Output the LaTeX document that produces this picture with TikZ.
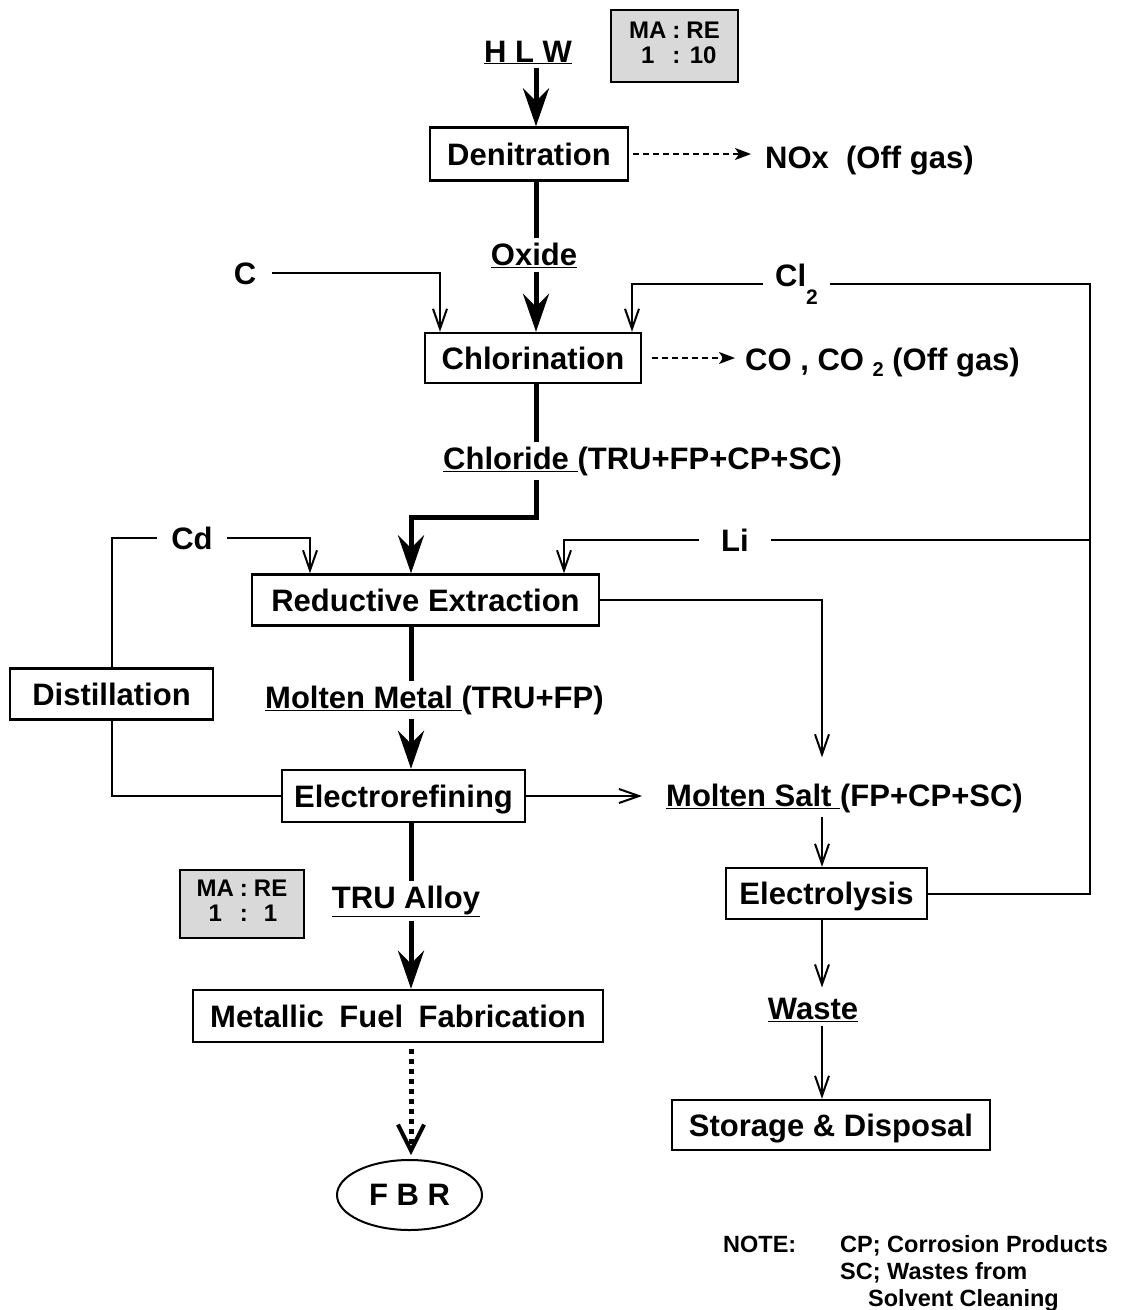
\documentclass[tikz,border=0pt]{standalone}
\usepackage{fontspec}
\setmainfont{Liberation Sans}
\usetikzlibrary{arrows.meta,shapes.geometric}
\begin{document}
\begin{tikzpicture}[x=1pt,y=-1pt,
  font=\bfseries\fontsize{31}{36}\selectfont,
  procbox/.style={draw,line width=2.4pt,inner sep=0pt,text height=22.2pt,text depth=0pt},
  lbl/.style={inner sep=0pt},
  ratio/.style={draw,line width=2pt,fill=black!15,inner sep=0pt,
     font=\bfseries\fontsize{24}{24}\selectfont},
  mainline/.style={line width=5pt},
  mainarrow/.style={line width=5pt,-{Stealth[length=38pt,width=26pt,inset=13pt]}},
  plain/.style={line width=2pt},
  feed/.style={line width=2pt,-{Straight Barb[length=20pt,width=14pt,line width=2pt]}},
  offg/.style={line width=1.8pt,dash pattern=on 6pt off 4pt,
     -{Stealth[length=16pt,width=12pt,inset=4pt]}},
  dotarrow/.style={line width=5pt,dash pattern=on 5pt off 5pt,
     -{Straight Barb[length=26pt,width=26pt,line width=4pt]}}]
\useasboundingbox (0,0) rectangle (1125,1310);

% axis coordinates
\coordinate (axA) at (536,0);
\coordinate (axB) at (411,0);
\coordinate (cx) at (440,0);
\coordinate (clx) at (632,0);
\coordinate (cdx) at (310,0);
\coordinate (lix) at (564,0);
\coordinate (msx) at (822,0);
\coordinate (rx) at (1090,0);
\coordinate (elb) at (536,517);

% top
\node[lbl,anchor=base] (hlw) at (528,62) {\underline{H L W}};
\node[ratio,minimum width=127pt,minimum height=72pt] (r1) at (674.5,46)
  {\begin{tabular}{@{}c@{\hspace{6pt}}c@{\hspace{6pt}}c@{}}MA&:&RE\\[1pt]1&:&10\end{tabular}};

\node[procbox,minimum width=198pt,minimum height=53pt] (den) at (529,154) {Denitration};
\node[lbl,anchor=base west] (nox) at (765,168) {NOx\ \ (Off gas)};

\node[lbl,anchor=base,inner ysep=4pt] (oxide) at (534,265) {\underline{Oxide}};
\node[lbl,anchor=base,inner xsep=16pt] (cC) at (245,284) {C};
\node[lbl,anchor=base west,inner xsep=12pt] (cl) at (763,286) {Cl\raisebox{-18pt}{\fontsize{21}{21}\selectfont 2}};

\node[procbox,minimum width=216pt,minimum height=50pt] (chlor) at (533,358) {Chlorination};
\node[lbl,anchor=base west] (co) at (745,370) {CO , CO \raisebox{-6pt}{\fontsize{20}{20}\selectfont 2} (Off gas)};

\node[lbl,anchor=base west,inner ysep=4pt] (chl) at (443,469) {\underline{Chloride\ }(TRU+FP+CP+SC)};

\node[lbl,anchor=base,inner xsep=14pt] (cd) at (192,549) {Cd};
\node[lbl,anchor=base,inner xsep=22pt] (li) at (735,551) {Li};

\node[procbox,minimum width=347pt,minimum height=51pt] (red) at (425.5,600) {Reductive Extraction};

\node[procbox,minimum width=203pt,minimum height=51pt] (dist) at (111.5,694) {Distillation};
\node[lbl,anchor=base west,inner ysep=4pt] (mm) at (265,708) {\underline{Molten Metal\ }(TRU+FP)};

\node[procbox,minimum width=243pt,minimum height=52pt] (elr) at (403.5,796) {Electrorefining};
\node[lbl,anchor=base west,inner ysep=4pt] (ms) at (666,806) {\underline{Molten Salt\ }(FP+CP+SC)};

\node[ratio,minimum width=124pt,minimum height=68pt] (r2) at (242,904)
  {\begin{tabular}{@{}c@{\hspace{6pt}}c@{\hspace{6pt}}c@{}}MA&:&RE\\[1pt]1&:&1\end{tabular}};
\node[lbl,anchor=base,inner ysep=4pt] (tru) at (406,908) {\underline{TRU Alloy}};

\node[procbox,minimum width=201pt,minimum height=51pt] (ely) at (826.5,893.5) {Electrolysis};
\node[lbl,anchor=base,inner ysep=4pt] (waste) at (813,1019) {\underline{Waste}};

\node[procbox,minimum width=410pt,minimum height=52pt] (met) at (398,1016)
  {Metallic\hspace{0.5em}Fuel\hspace{0.5em}Fabrication};
\node[procbox,minimum width=318pt,minimum height=50pt] (sto) at (831,1125) {Storage \& Disposal};

\node[draw,ellipse,line width=2pt,minimum width=145pt,minimum height=70pt,inner sep=0pt] (fbr) at (409.5,1195) {F B R};

% note
\node[lbl,anchor=base west,font=\bfseries\fontsize{23.5}{28}\selectfont] (note) at (723,1252) {NOTE:};
\node[lbl,anchor=base west,font=\bfseries\fontsize{23.5}{28}\selectfont] (n1) at (840,1252) {CP; Corrosion Products};
\node[lbl,anchor=base west,font=\bfseries\fontsize{23.5}{28}\selectfont] (n2) at (840,1279) {SC; Wastes from};
\node[lbl,anchor=base west,font=\bfseries\fontsize{23.5}{28}\selectfont] (n3) at (868,1306) {Solvent Cleaning};

% main chain
\draw[mainarrow,shorten <=4pt] (hlw.south -| axA) -- (den.north -| axA);
\draw[mainline] (den.south -| axA) -- (oxide.north -| axA);
\draw[mainarrow] (oxide.south -| axA) -- (chlor.north -| axA);
\draw[mainline] (chlor.south -| axA) -- (chl.north -| axA);
\draw[mainarrow] (chl.south -| axA) -- (elb) -| (red.north -| axB);
\draw[mainline] (red.south -| axB) -- (mm.north -| axB);
\draw[mainarrow] (mm.south -| axB) -- (elr.north -| axB);
\draw[mainline] (elr.south -| axB) -- (tru.north -| axB);
\draw[mainarrow] (tru.south -| axB) -- (met.north -| axB);
\draw[dotarrow] ([yshift=-6pt]met.south -| axB) -- ([yshift=4pt]fbr.north -| axB);

% off gas
\draw[offg,shorten <=4pt,shorten >=14pt] (den.east) -- (den.east -| nox.west);
\draw[offg,shorten <=10pt,shorten >=10pt] (chlor.east) -- (chlor.east -| co.west);

% feeds
\draw[feed] (cC.east) -| (chlor.north -| cx);
\draw[feed] (cl.west) -| (chlor.north -| clx);
\draw[feed] (cd.east) -| (red.north -| cdx);
\draw[plain] (cd.west) -| (dist.north);
\draw[feed] (li.west) -| (red.north -| lix);
\draw[plain] (li.east) -- (li.east -| rx);
\draw[plain] (ely.east) -| (cl.east -| rx) -- (cl.east);
\draw[plain] (dist.south) |- (elr.west);
\draw[feed,shorten >=22pt] (red.east) -| (ms.north -| msx);
\draw[feed,shorten >=24pt] (elr.east) -- (elr.east -| ms.west);
\draw[feed] (ms.south -| msx) -- (ely.north -| msx);
\draw[feed,shorten >=6pt] (ely.south -| msx) -- (waste.north -| msx);
\draw[feed] (waste.south -| msx) -- (sto.north -| msx);
\end{tikzpicture}
\end{document}
